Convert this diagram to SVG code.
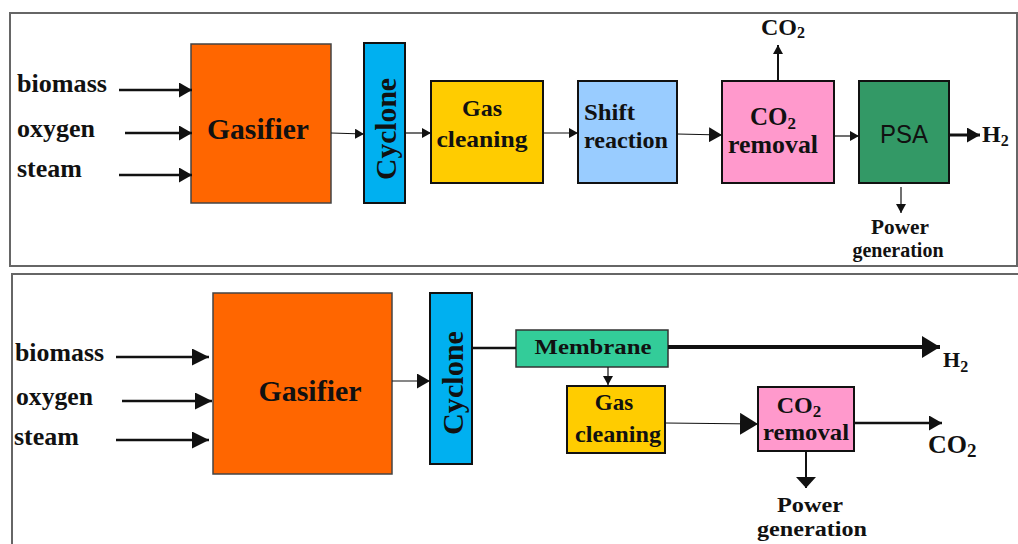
<svg xmlns="http://www.w3.org/2000/svg" width="1018" height="544" viewBox="0 0 1018 544">
<style>
.frame{fill:none;stroke:#666;stroke-width:2}
.box{stroke:#111;stroke-width:2}
.t{font-family:"Liberation Serif","Times New Roman",serif;font-weight:bold;fill:#111}
.s{font-family:"Liberation Sans",Arial,sans-serif;fill:#111}
.c{fill:none;stroke:#111}
</style>
<defs>
<marker id="aS" markerUnits="userSpaceOnUse" markerWidth="10" markerHeight="10" refX="9" refY="5" orient="auto"><path d="M0,0 L9,5 L0,10 z" fill="#111"/></marker>
<marker id="aM" markerUnits="userSpaceOnUse" markerWidth="13" markerHeight="15" refX="13" refY="7.5" orient="auto"><path d="M0,0 L13,7.5 L0,15 z" fill="#111"/></marker>
<marker id="aL" markerUnits="userSpaceOnUse" markerWidth="17" markerHeight="17" refX="17" refY="8.5" orient="auto"><path d="M0,0 L17,8.5 L0,17 z" fill="#111"/></marker>
<marker id="aXL" markerUnits="userSpaceOnUse" markerWidth="18" markerHeight="22" refX="18" refY="11" orient="auto"><path d="M0,0 L18,11 L0,22 z" fill="#111"/></marker>
<marker id="aDn" markerUnits="userSpaceOnUse" markerWidth="12" markerHeight="20" refX="11" refY="10" orient="auto"><path d="M0,0 L11,10 L0,20 z" fill="#111"/></marker>
</defs>

<rect class="frame" x="10" y="13" width="1007" height="253"/>
<rect class="frame" x="12" y="274" width="1012" height="280"/>

<!-- top panel texts (inputs/outputs) -->
<g id="top-inputs">
<text class="t" x="17" y="92" font-size="25" textLength="90" lengthAdjust="spacingAndGlyphs">biomass</text>
<text class="t" x="17" y="137" font-size="25" textLength="78" lengthAdjust="spacingAndGlyphs">oxygen</text>
<text class="t" x="17" y="177" font-size="25" textLength="65" lengthAdjust="spacingAndGlyphs">steam</text>
</g>
<g id="top-gasifier">
<rect x="191" y="44" width="140" height="159" fill="#FF6600" stroke="#444" stroke-width="1.5"/>
<text class="t" x="258" y="139" font-size="29" text-anchor="middle" textLength="102" lengthAdjust="spacingAndGlyphs">Gasifier</text>
</g>
<g id="top-cyclone">
<rect class="box" x="364" y="43" width="41" height="160" fill="#00B0F0" stroke-width="2.5"/>
<text class="t" transform="translate(396,129) rotate(-90)" font-size="29" text-anchor="middle" textLength="102" lengthAdjust="spacingAndGlyphs">Cyclone</text>
</g>
<g id="top-gascleaning">
<rect class="box" x="431" y="81" width="112" height="102" fill="#FFCC00"/>
<text class="t" x="482" y="116" font-size="24" text-anchor="middle">Gas</text>
<text class="t" x="482" y="147" font-size="24" text-anchor="middle" textLength="91" lengthAdjust="spacingAndGlyphs">cleaning</text>
</g>
<g id="top-shift">
<rect class="box" x="578" y="81" width="99" height="102" fill="#99CCFF"/>
<text class="t" x="584" y="120" font-size="24" textLength="51" lengthAdjust="spacingAndGlyphs">Shift</text>
<text class="t" x="584" y="148" font-size="24" textLength="84" lengthAdjust="spacingAndGlyphs">reaction</text>
</g>
<g id="top-co2removal">
<rect class="box" x="722" y="81" width="112" height="102" fill="#FF99CC"/>
<text class="t" x="773" y="125" font-size="25" text-anchor="middle">CO<tspan font-size="17" dy="4">2</tspan></text>
<text class="t" x="773" y="153" font-size="25" text-anchor="middle" textLength="90" lengthAdjust="spacingAndGlyphs">removal</text>
</g>
<g id="top-psa">
<rect class="box" x="859" y="81" width="90" height="102" fill="#339966"/>
<text class="s" x="904" y="143" font-size="25" text-anchor="middle" textLength="48" lengthAdjust="spacingAndGlyphs">PSA</text>
</g>
<g id="top-outputs">
<text class="t" x="783" y="35" font-size="24" text-anchor="middle">CO<tspan font-size="16" dy="3">2</tspan></text>
<text class="t" x="982" y="142" font-size="24">H<tspan font-size="16" dy="4">2</tspan></text>
<text class="t" x="900" y="234" font-size="20" text-anchor="middle" textLength="58" lengthAdjust="spacingAndGlyphs">Power</text>
<text class="t" x="898" y="257" font-size="20" text-anchor="middle" textLength="91" lengthAdjust="spacingAndGlyphs">generation</text>
</g>

<!-- bottom panel -->
<g id="bot-inputs">
<text class="t" x="15" y="361" font-size="25" textLength="89" lengthAdjust="spacingAndGlyphs">biomass</text>
<text class="t" x="16" y="405" font-size="25" textLength="77" lengthAdjust="spacingAndGlyphs">oxygen</text>
<text class="t" x="14" y="445" font-size="25" textLength="65" lengthAdjust="spacingAndGlyphs">steam</text>
</g>
<g id="bot-gasifier">
<rect x="213" y="293" width="179" height="181" fill="#FF6600" stroke="#444" stroke-width="1.5"/>
<text class="t" x="310" y="401" font-size="29" text-anchor="middle" textLength="103" lengthAdjust="spacingAndGlyphs">Gasifier</text>
</g>
<g id="bot-cyclone">
<rect class="box" x="430" y="293" width="42" height="171" fill="#00B0F0" stroke-width="2.5"/>
<text class="t" transform="translate(463,383) rotate(-90)" font-size="29" text-anchor="middle" textLength="104" lengthAdjust="spacingAndGlyphs">Cyclone</text>
</g>
<g id="bot-membrane">
<rect x="516" y="330" width="152" height="37" fill="#33CC99" stroke="#333" stroke-width="1.5"/>
<text class="t" x="593" y="354" font-size="22" text-anchor="middle" textLength="117" lengthAdjust="spacingAndGlyphs">Membrane</text>
</g>
<g id="bot-gascleaning">
<rect class="box" x="567" y="386" width="98" height="67" fill="#FFCC00"/>
<text class="t" x="614" y="410" font-size="23" text-anchor="middle">Gas</text>
<text class="t" x="618" y="442" font-size="23" text-anchor="middle" textLength="86" lengthAdjust="spacingAndGlyphs">cleaning</text>
</g>
<g id="bot-co2removal">
<rect class="box" x="758" y="387" width="96" height="64" fill="#FF99CC"/>
<text class="t" x="799" y="413" font-size="24" text-anchor="middle">CO<tspan font-size="17" dy="4">2</tspan></text>
<text class="t" x="806" y="440" font-size="24" text-anchor="middle" textLength="86" lengthAdjust="spacingAndGlyphs">removal</text>
</g>
<g id="bot-outputs">
<text class="t" x="943" y="367" font-size="22">H<tspan font-size="16" dy="5">2</tspan></text>
<text class="t" x="928" y="453" font-size="26">CO<tspan font-size="19" dy="4">2</tspan></text>
<text class="t" x="810" y="512" font-size="20" text-anchor="middle" textLength="66" lengthAdjust="spacingAndGlyphs">Power</text>
<text class="t" x="812" y="536" font-size="20" text-anchor="middle" textLength="110" lengthAdjust="spacingAndGlyphs">generation</text>
</g>

<g id="connectors">
<!-- top -->
<line class="c" x1="119" y1="90" x2="192" y2="90" stroke-width="2.5" marker-end="url(#aM)"/>
<line class="c" x1="125" y1="133" x2="192" y2="133" stroke-width="2.5" marker-end="url(#aM)"/>
<line class="c" x1="119" y1="175" x2="192" y2="175" stroke-width="2.5" marker-end="url(#aM)"/>
<line class="c" x1="331" y1="133" x2="364" y2="134" stroke-width="1.2" marker-end="url(#aS)"/>
<line class="c" x1="405" y1="133" x2="431" y2="133" stroke-width="1.2" marker-end="url(#aS)"/>
<line class="c" x1="543" y1="133" x2="578" y2="133" stroke-width="1.2" marker-end="url(#aS)"/>
<line class="c" x1="677" y1="134" x2="722" y2="135" stroke-width="1.2" marker-end="url(#aM)"/>
<line class="c" x1="834" y1="136" x2="859" y2="136" stroke-width="1.2" marker-end="url(#aS)"/>
<line class="c" x1="778" y1="81" x2="778" y2="45" stroke-width="2" marker-end="url(#aS)"/>
<line class="c" x1="949" y1="135" x2="980" y2="135" stroke-width="3" marker-end="url(#aM)"/>
<line class="c" x1="901" y1="187" x2="901" y2="213" stroke-width="1.2" marker-end="url(#aS)"/>
<!-- bottom -->
<line class="c" x1="116" y1="357" x2="209" y2="357" stroke-width="2.5" marker-end="url(#aL)"/>
<line class="c" x1="122" y1="401" x2="212" y2="401" stroke-width="2.5" marker-end="url(#aL)"/>
<line class="c" x1="116" y1="440" x2="209" y2="440" stroke-width="2.5" marker-end="url(#aL)"/>
<line class="c" x1="392" y1="381" x2="430" y2="381" stroke-width="1.2" marker-end="url(#aM)"/>
<line class="c" x1="472" y1="348" x2="516" y2="348" stroke-width="2.5"/>
<line class="c" x1="668" y1="347" x2="940" y2="347" stroke-width="4" marker-end="url(#aXL)"/>
<line class="c" x1="608" y1="367" x2="608" y2="385" stroke-width="1.2" marker-end="url(#aS)"/>
<line class="c" x1="665" y1="423" x2="758" y2="424" stroke-width="1.2" marker-end="url(#aXL)"/>
<line class="c" x1="854" y1="423" x2="942" y2="423" stroke-width="2.5" marker-end="url(#aM)"/>
<line class="c" x1="806" y1="451" x2="806" y2="488" stroke-width="2" marker-end="url(#aDn)"/>
</g>
</svg>
